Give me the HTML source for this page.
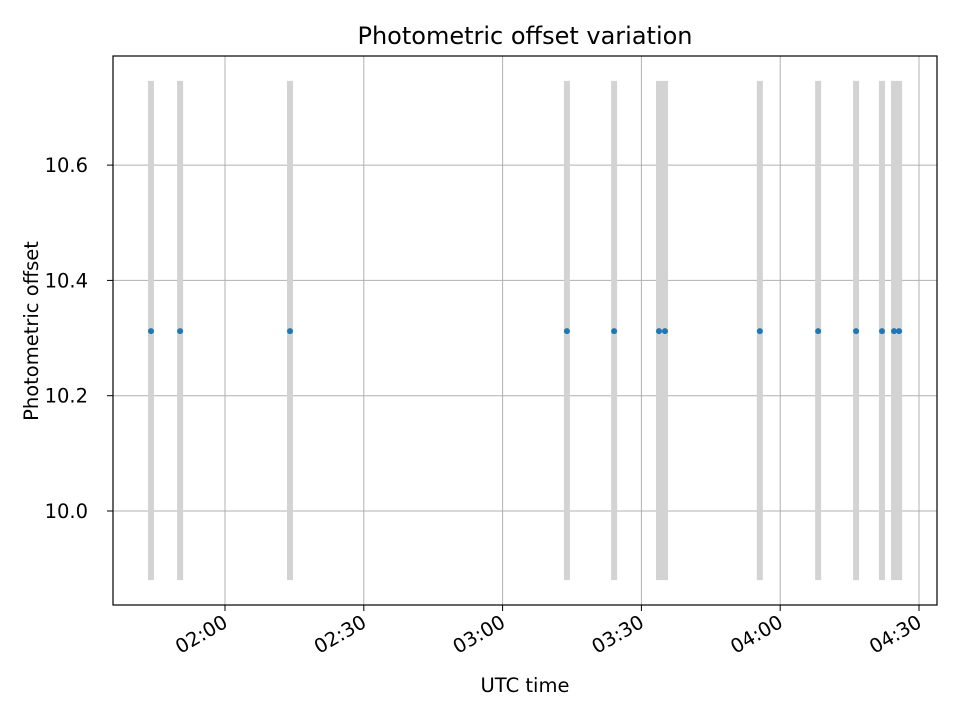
<!DOCTYPE html>
<html><head><meta charset="utf-8"><style>
body{margin:0;background:#fff;font-family:"DejaVu Sans","Liberation Sans",sans-serif}
svg text{font-family:"DejaVu Sans","Liberation Sans",sans-serif}
</style></head><body>
<svg id="chart" width="960" height="720" xmlns="http://www.w3.org/2000/svg">
<rect width="960" height="720" fill="#fff"/>
<g id="grid"></g>
<g id="bars"></g>
<g id="pts"></g>
<rect x="113" y="56" width="824" height="549" fill="none" stroke="#000" stroke-width="1.2"/>
<g id="ticks"></g>
<text x="525" y="44" font-size="24" text-anchor="middle">Photometric offset variation</text>
<text x="525" y="692" font-size="19.5" text-anchor="middle">UTC time</text>
<text transform="translate(38,331) rotate(-90)" font-size="19.5" text-anchor="middle">Photometric offset</text>
</svg>
<script>
// minutes since 02:00 UTC
const times=[-16.0,-9.7,14.05,73.9,84.1,93.8,95.1,115.6,128.2,136.4,142.0,144.6,145.7];
const offsets=[10.312,10.312,10.312,10.312,10.312,10.312,10.312,10.312,10.312,10.312,10.312,10.312,10.312];
const lows=[9.88,9.88,9.88,9.88,9.88,9.88,9.88,9.88,9.88,9.88,9.88,9.88,9.88];
const highs=[10.746,10.746,10.746,10.746,10.746,10.746,10.746,10.746,10.746,10.746,10.746,10.746,10.746];
const xTicks=[0,30,60,90,120,150];
const xLabels=["02:00","02:30","03:00","03:30","04:00","04:30"];
const yTicks=[10.0,10.2,10.4,10.6];
const yLabels=["10.0","10.2","10.4","10.6"];
const X=m=>225+m*(138.8/30);
const Y=v=>511-(v-10.0)*(115.3/0.2);
const NS="http://www.w3.org/2000/svg";
function mk(p,t,a){const e=document.createElementNS(NS,t);for(const k in a)e.setAttribute(k,a[k]);p.appendChild(e);return e;}
const g=document.getElementById('grid'),tk=document.getElementById('ticks');
xTicks.forEach((t,i)=>{const x=X(t);
 const l=mk(g,'line',{x1:x,x2:x,y1:56,y2:605,stroke:'#b0b0b0','stroke-width':1});
 
 
 const m=mk(tk,'line',{x1:x,x2:x,y1:605,y2:611,stroke:'#000'});
 
 
 const ax=x+4, ay=626;
 const tx=mk(tk,'text',{x:ax,y:ay,'font-size':19.5,'text-anchor':'end',transform:`rotate(-30 ${ax} ${ay})`});
 tx.textContent=xLabels[i];
 
 
});
yTicks.forEach((t,i)=>{const y=Y(t);
 const l=mk(g,'line',{x1:113,x2:937,y1:y,y2:y,stroke:'#b0b0b0','stroke-width':1});
 
 
 const m=mk(tk,'line',{x1:107,x2:113,y1:y,y2:y,stroke:'#000'});
 
 
 const tx=mk(tk,'text',{x:88,y:y+7,'font-size':19.5,'text-anchor':'end'});
 tx.textContent=yLabels[i];
 
 
});
const b=document.getElementById('bars'),p=document.getElementById('pts');
times.forEach((t,i)=>{const x=X(t);
 const r=mk(b,'line',{x1:x,x2:x,y1:Y(highs[i]),y2:Y(lows[i]),stroke:'#d3d3d3','stroke-width':6});
 
 
 const c=mk(p,'circle',{cx:x,cy:Y(offsets[i]),r:3,fill:'#1f77b4'});
 
 
});
</script>
</body></html>
